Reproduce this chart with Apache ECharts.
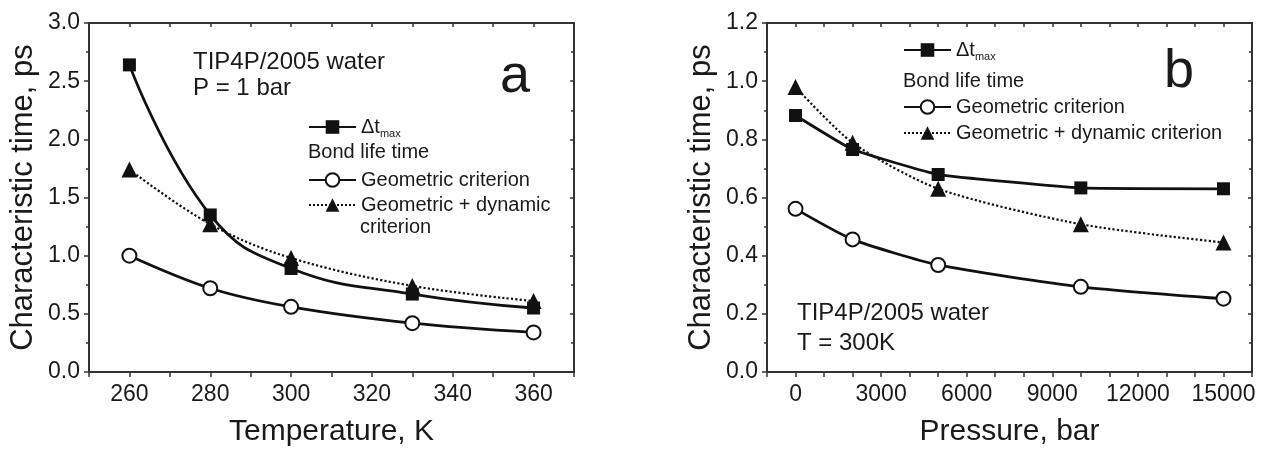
<!DOCTYPE html>
<html>
<head>
<meta charset="utf-8">
<script src="https://cdn.jsdelivr.net/npm/echarts@6/dist/echarts.min.js"></script>
<style>
html,body{margin:0;padding:0;background:#fff;}
#c{width:1261px;height:452px;}
</style>
</head>
<body>
<div id="c"></div>
<script>
// ---- data ----
const tempK = [260, 280, 300, 330, 360];
const dtMaxT = [2.64, 1.35, 0.89, 0.67, 0.55];
const geomT = [1.00, 0.72, 0.56, 0.42, 0.34];
const geomDynT = [1.74, 1.27, 0.98, 0.74, 0.61];

const pressureBar = [0, 2000, 5000, 10000, 15000];
const dtMaxP = [0.882, 0.765, 0.679, 0.633, 0.630];
const geomP = [0.561, 0.456, 0.368, 0.293, 0.252];
const geomDynP = [0.98, 0.788, 0.63, 0.508, 0.445];

const yLabel = 'Characteristic time, ps';
const xLabelA = 'Temperature, K';
const xLabelB = 'Pressure, bar';
const nameDt = 'Δt_max';
const nameGeom = 'Geometric criterion';
const nameGeomDyn = 'Geometric + dynamic criterion';

const zip = (xs, ys) => xs.map((x, i) => [x, ys[i]]);

const FONT = 'Liberation Sans, Arial, sans-serif';
const TXT = '#1a1a1a';
const AX = '#333';

function xAxisMain(grid, min, max, interval, labelEvery, name) {
  return {
    type: 'value', gridIndex: grid, position: 'bottom', min, max, interval,
    name, nameLocation: 'middle', nameGap: 45,
    nameTextStyle: {fontFamily: FONT, fontSize: 30, color: TXT},
    axisLine: {onZero: false, lineStyle: {color: AX, width: 2}},
    axisTick: {inside: false, length: 5, lineStyle: {color: AX, width: 1.5}},
    axisLabel: {fontFamily: FONT, fontSize: 23, color: TXT, margin: 11,
      formatter: v => (Math.round(v) % labelEvery === 0 ? String(Math.round(v)) : '')},
    splitLine: {show: false}
  };
}
function xAxisMirror(grid, min, max, interval) {
  return {
    type: 'value', gridIndex: grid, position: 'top', min, max, interval,
    axisLine: {onZero: false, lineStyle: {color: AX, width: 2}},
    axisTick: {inside: true, length: 4, lineStyle: {color: AX, width: 1.5}},
    axisLabel: {show: false}, splitLine: {show: false}
  };
}
function yAxisMain(grid, min, max, interval, digits) {
  return {
    type: 'value', gridIndex: grid, position: 'left', min, max, interval,
    name: yLabel, nameLocation: 'middle', nameGap: 50,
    nameTextStyle: {fontFamily: FONT, fontSize: 31, color: TXT},
    axisLine: {onZero: false, lineStyle: {color: AX, width: 2}},
    axisTick: {inside: false, length: 5, lineStyle: {color: AX, width: 1.5}},
    minorTick: {show: true, splitNumber: 2, length: 3, lineStyle: {color: AX, width: 1.5}},
    axisLabel: {fontFamily: FONT, fontSize: 23, color: TXT, margin: 9,
      formatter: v => v.toFixed(digits)},
    splitLine: {show: false}, minorSplitLine: {show: false}
  };
}
function yAxisMirror(grid, min, max, interval) {
  return {
    type: 'value', gridIndex: grid, position: 'right', min, max, interval,
    axisLine: {onZero: false, lineStyle: {color: AX, width: 2}},
    axisTick: {inside: true, length: 4, lineStyle: {color: AX, width: 1.5}},
    minorTick: {show: true, splitNumber: 2, length: 3, lineStyle: {color: AX, width: 1.5}},
    axisLabel: {show: false}, splitLine: {show: false}, minorSplitLine: {show: false}
  };
}

function seriesDt(xi, yi, data, smooth) {
  return {name: nameDt, type: 'line', xAxisIndex: xi, yAxisIndex: yi, data, smooth,
    symbol: 'rect', symbolSize: 13, z: 3,
    lineStyle: {color: '#111', width: 2.8}, itemStyle: {color: '#111'}};
}
function seriesGeom(xi, yi, data, smooth) {
  return {name: nameGeom, type: 'line', xAxisIndex: xi, yAxisIndex: yi, data, smooth,
    symbol: 'circle', symbolSize: 14, z: 4,
    lineStyle: {color: '#111', width: 2.8},
    itemStyle: {color: '#fff', borderColor: '#111', borderWidth: 2}};
}
function seriesGeomDyn(xi, yi, data, smooth) {
  return {name: nameGeomDyn, type: 'line', xAxisIndex: xi, yAxisIndex: yi, data, smooth,
    symbol: 'triangle', symbolSize: 16, z: 5,
    lineStyle: {color: '#111', width: 2.2, type: 'dotted'}, itemStyle: {color: '#111'}};
}

const legendText = {fontFamily: FONT, fontSize: 20, lineHeight: 20, color: TXT,
  rich: {m: {fontFamily: FONT, fontSize: 20, color: TXT},
         s: {fontFamily: FONT, fontSize: 11, color: TXT, padding: [13, 0, 0, 0]}}};
function legendFmt(two) {
  return n => {
    if (n === nameDt) return '{m|Δt}{s|max}';
    if (n === nameGeomDyn && two) return 'Geometric + dynamic';
    return n;
  };
}
function legendBlock(left, top, names, two, gap) {
  return {
    left, top, orient: 'vertical', itemWidth: 47, itemHeight: 17, itemGap: gap,
    padding: 0, data: names, selectedMode: false,
    textStyle: legendText, formatter: legendFmt(two)
  };
}

const note = (text, left, top, size) => ({
  text, left, top, padding: 0,
  textStyle: {fontFamily: FONT, fontSize: size, fontWeight: 'normal', color: TXT}
});

const option = {
  backgroundColor: '#fff',
  animation: false,
  grid: [
    {left: 89, top: 23, width: 485, height: 350},
    {left: 767, top: 23, width: 485, height: 350}
  ],
  xAxis: [
    xAxisMain(0, 250, 370, 10, 20, xLabelA),
    xAxisMirror(0, 250, 370, 10),
    xAxisMain(1, -1000, 16000, 1000, 3000, xLabelB),
    xAxisMirror(1, -1000, 16000, 1000)
  ],
  yAxis: [
    yAxisMain(0, 0, 3, 0.5, 1),
    yAxisMirror(0, 0, 3, 0.5),
    yAxisMain(1, 0, 1.2, 0.2, 1),
    yAxisMirror(1, 0, 1.2, 0.2)
  ],
  title: [
    note('TIP4P/2005 water', 193, 50, 24),
    note('P = 1 bar', 193, 76, 24),
    note('a', 500, 50, 54),
    note('Bond life time', 308, 142, 20),
    note('criterion', 360, 217, 20),
    note('Bond life time', 903, 71, 20),
    note('TIP4P/2005 water', 797, 301, 24),
    note('T = 300K', 797, 331, 24),
    note('b', 1164, 45, 54)
  ],
  legend: [
    legendBlock(308, 117, [nameDt], true, 5),
    legendBlock(308, 170, [nameGeom, nameGeomDyn], true, 5),
    legendBlock(903, 40, [nameDt], false, 6),
    legendBlock(903, 97, [nameGeom, nameGeomDyn], false, 6)
  ],
  series: [
    seriesDt(0, 0, zip(tempK, dtMaxT), 0.45),
    seriesGeom(0, 0, zip(tempK, geomT), 0.35),
    seriesGeomDyn(0, 0, zip(tempK, geomDynT), 0.35),
    seriesDt(2, 2, zip(pressureBar, dtMaxP), 0.1),
    seriesGeom(2, 2, zip(pressureBar, geomP), 0.2),
    seriesGeomDyn(2, 2, zip(pressureBar, geomDynP), 0.25)
  ]
};

const chart = echarts.init(document.getElementById('c'), null, {renderer: 'canvas'});
chart.setOption(option);
</script>
</body>
</html>
